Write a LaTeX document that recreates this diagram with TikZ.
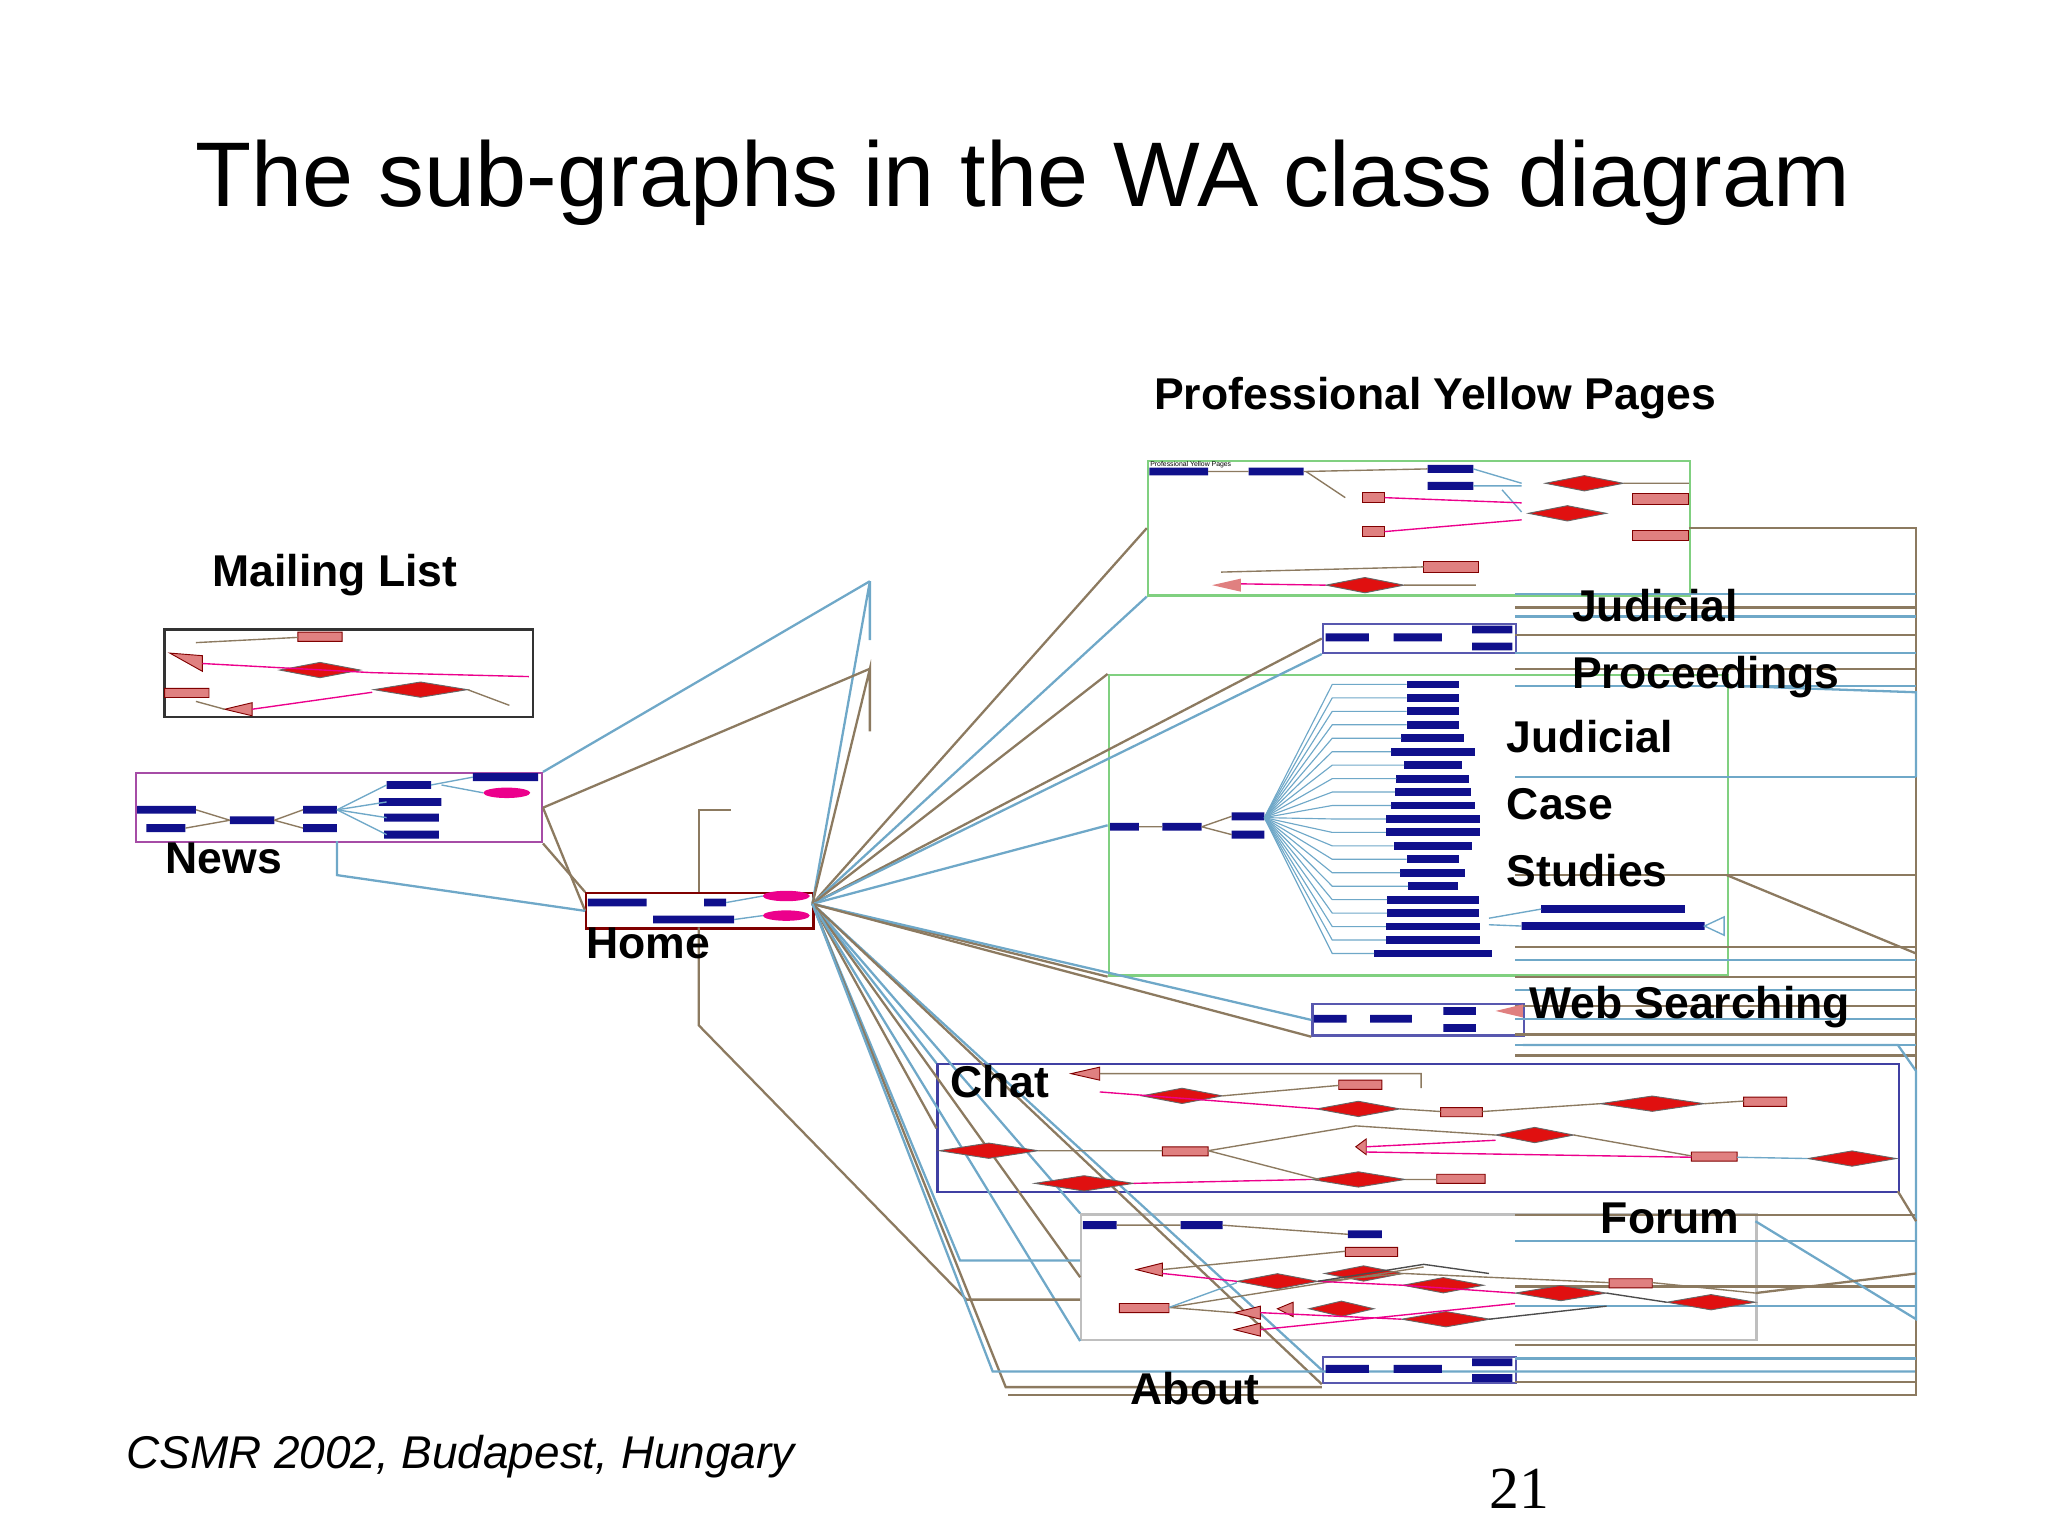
\documentclass[tikz,border=0pt]{standalone}
\usepackage{fontspec}
\setmainfont{Liberation Sans}
\usetikzlibrary{shapes.geometric}
\definecolor{bar}{HTML}{10108C}
\definecolor{dred}{HTML}{E01010}
\definecolor{pink}{HTML}{E08080}
\definecolor{ln1}{HTML}{6FA8C8}
\definecolor{ln2}{HTML}{8C7A60}
\definecolor{gbox}{HTML}{80D080}
\begin{document}
\begin{tikzpicture}[x=0.1mm,y=-0.1mm,
  lab/.style={font=\fontsize{9.7}{11.6}\selectfont\bfseries,anchor=west,align=left,inner sep=0},
  sg/.style={draw,line width=0.5pt,inner sep=0,anchor=north west,minimum width=#1*0.2845pt},
  sh/.style={minimum height=#1*0.2845pt},
  dia/.style={diamond,fill=dred,draw=black!60,line width=0.2pt,minimum width=#1*0.2845pt,minimum height=12*0.2845pt,inner sep=0,aspect=6},
  c1/.style={ln1,line width=0.5pt},
  c2/.style={ln2,line width=0.5pt}]
\useasboundingbox (0,0) rectangle (1568,1176);
\node[font=\fontsize{20}{24}\selectfont] (title) at (783,140) {The sub-graphs in the WA class diagram};

% sub-graph boxes
\node[sg=415,sh=103,draw=gbox] (pyp) at (878,352) {};
\node[sg=282,sh=67,draw=black!80] (ml) at (125,481) {};
\node[sg=311,sh=53,draw=violet!70] (news) at (103,591) {};
\node[sg=174,sh=27,draw=red!50!black] (home) at (448,683) {};
\node[sg=148,sh=22,draw=bar!70] (jp) at (1012,477) {};
\node[sg=474,sh=230,draw=gbox] (jcs) at (848,516) {};
\node[sg=162,sh=24,draw=bar!70] (ws) at (1004,768) {};
\node[sg=736,sh=98,draw=bar!80] (chat) at (717,814) {};
\node[sg=517,sh=96,draw=black!25] (forum) at (827,929) {};
\node[sg=148,sh=20,draw=bar!70] (about) at (1012,1038) {};

% connectors from Home
\coordinate (hr) at (622,692);
\foreach \t/\c in {pyp.west/c2,pyp.south west/c1,jp.west/c2,jp.south west/c1,jcs.north west/c2,jcs.west/c1,jcs.south west/c2,ws.west/c1,ws.south west/c2,chat.north west/c1,chat.west/c2,forum.north west/c1,forum.west/c2,forum.south west/c1,about.west/c1,about.south west/c2}
  \draw[\c] (hr) -- (\t);
\draw[c1] (hr) -- (666,445) -- (666,490);
\draw[c2] (hr) -- (666,512) -- (666,560);
\draw[c2] (news.east) -- (home.west);
\draw[c2] (news.south east) -- (home.north west);
\draw[c1] (258,644) -- (258,670) -- (home.west);
\draw[c1] (news.north east) -- (666,445);
\draw[c2] (news.east) -- (666,512);
\draw[c2] (535,683) -- (535,620) -- (560,620);
\draw[c2] (535,710) -- (535,785) -- (740,995) -- (827,995);
\draw[c1] (hr) -- (735,965) -- (827,965);
\draw[c2] (hr) -- (770,1062) -- (1012,1062);
\draw[c1] (hr) -- (760,1050) -- (1467,1050);

% right-side bus lines
\draw[c2] (1293,404) -- (1467,404) -- (1467,1068) -- (772,1068);
\foreach \y/\c in {455/c1,465/c2,472/c1,486/c2,500/c1,512/c2,525/c1,595/c1,670/c2,725/c2,735/c1,748/c2,758/c1,770/c2,780/c1,792/c2,800/c1,808/c2,930/c2,950/c1,985/c2,1000/c1,1030/c2,1040/c1,1058/c2}
  \draw[\c] (1160,\y) -- (1467,\y);
\draw[c1] (1322,525) -- (1467,530) -- (1467,595);
\draw[c2] (1322,670) -- (1467,730);
\draw[c1] (1166,800) -- (1453,800) -- (1467,820) -- (1467,1010) -- (1344,935);
\draw[c2] (1453,912) -- (1467,935);
\draw[c2] (1344,990) -- (1467,975);

% ---- PYP interior
\node[anchor=north west,inner sep=0,font=\fontsize{1.5}{2}\selectfont] at (880,353) {Professional Yellow Pages};
\fill[bar] (880,358) rectangle (925,364) (956,358) rectangle (998,364) (1093,356) rectangle (1128,362) (1093,369) rectangle (1128,375);
\draw[c2,line width=0.3pt] (925,361) -- (956,361) (998,361) -- (1093,359);
\draw[c1,line width=0.3pt] (1128,359) -- (1165,370) (1128,372) -- (1165,372) (1150,375) -- (1165,392);
\node[dia=60] at (1213,370) {};\node[dia=60] at (1200,393) {};\node[dia=60] at (1045,448) {};
\fill[pink,draw=red!50!black,line width=0.2pt] (1250,378) rectangle (1293,386) (1250,406) rectangle (1293,414) (1090,430) rectangle (1132,438) (1043,377) rectangle (1060,385) (1043,403) rectangle (1060,411);
\draw[magenta,line width=0.3pt] (1060,381) -- (1165,385) (1060,407) -- (1165,398) (950,447) -- (1015,448);
\draw[c2,line width=0.3pt] (1030,381) -- (1000,361) (1243,370) -- (1293,370) (935,438) -- (1090,434) (1075,448) -- (1130,448);
\fill[pink] (928,448) -- (950,443) -- (950,453) -- cycle;

% ---- Mailing list interior
\fill[pink,draw=red!50!black,line width=0.2pt] (228,484) rectangle (262,491) (126,527) rectangle (160,534) (130,500) -- (155,502) -- (155,514) -- cycle (172,543) -- (193,538) -- (193,548) -- cycle;
\node[dia=62] at (245,513) {};\node[dia=72] at (322,528) {};
\draw[c2,line width=0.3pt] (150,492) -- (228,488) (150,537) -- (172,543) (358,528) -- (390,540);
\draw[magenta,line width=0.3pt] (155,508) -- (285,515) -- (405,518) (193,543) -- (285,530);

% ---- News interior
\fill[bar] (105,617) rectangle (150,623) (112,631) rectangle (142,637) (176,625) rectangle (210,631) (232,617) rectangle (258,623) (232,631) rectangle (258,637) (296,598) rectangle (330,604) (290,611) rectangle (338,617) (294,623) rectangle (336,629) (294,636) rectangle (336,642) (362,592) rectangle (412,598);
\fill[magenta] (388,607) ellipse (18 and 4);
\draw[c2,line width=0.3pt] (150,620) -- (176,628) (142,634) -- (176,628) (210,628) -- (232,620) (210,628) -- (232,634);
\foreach \y in {601,614,626,639} \draw[c1,line width=0.3pt] (258,620) -- (296,\y);
\draw[c1,line width=0.3pt] (330,601) -- (362,595) (338,601) -- (370,607);

% ---- Home interior
\fill[bar] (450,688) rectangle (495,694) (539,688) rectangle (556,694) (500,701) rectangle (562,707);
\fill[magenta] (602,686) ellipse (18 and 4) (602,701) ellipse (18 and 4);
\draw[c1,line width=0.3pt] (556,691) -- (584,686) (562,704) -- (584,701);

% ---- Judicial proceedings / Web / About interiors
\fill[bar] (1015,485) rectangle (1048,491) (1067,485) rectangle (1104,491) (1127,479) rectangle (1158,485) (1127,492) rectangle (1158,498);
\fill[bar] (1006,777) rectangle (1031,783) (1049,777) rectangle (1081,783) (1105,771) rectangle (1130,777) (1105,784) rectangle (1130,790);
\fill[pink] (1145,774) -- (1166,769) -- (1166,779) -- cycle;
\fill[bar] (1015,1045) rectangle (1048,1051) (1067,1045) rectangle (1104,1051) (1127,1040) rectangle (1158,1046) (1127,1052) rectangle (1158,1058);

% ---- JCS interior
\fill[bar] (850,630) rectangle (872,636) (890,630) rectangle (920,636) (943,622) rectangle (968,628) (943,636) rectangle (968,642);
\draw[c2,line width=0.3pt] (872,633) -- (890,633) (920,633) -- (943,625) (920,633) -- (943,639);
\foreach \i/\w in {0/40,1/40,2/40,3/40,4/48,5/64,6/44,7/56,8/58,9/64,10/72,11/72,12/60,13/40,14/50,15/38,16/70,17/70,18/72,19/72,20/90}{
  \pgfmathsetmacro\yy{521+\i*10.3}
  \pgfmathsetmacro\xa{1097-\w/2}\pgfmathsetmacro\xb{1097+\w/2}
  \fill[bar] (\xa,\yy) rectangle (\xb,\yy+6);
  \draw[c1,line width=0.25pt] (968,626) -- (1020,\yy+3) -- (\xa,\yy+3);
}
\fill[bar] (1180,693) rectangle (1290,699) (1165,706) rectangle (1305,712);
\draw[c1,line width=0.3pt] (1140,703) -- (1180,696) (1140,708) -- (1165,709);
\fill[white,draw=ln1,line width=0.3pt] (1305,709) -- (1320,702) -- (1320,716) -- cycle;

% ---- Chat interior
\fill[pink,draw=red!50!black,line width=0.2pt] (820,822) -- (842,817) -- (842,827) -- cycle (1025,827) rectangle (1058,834) (1103,848) rectangle (1135,855) (1335,840) rectangle (1368,847) (890,878) rectangle (925,885) (1295,882) rectangle (1330,889) (1100,899) rectangle (1137,906) (1038,878) -- (1046,872) -- (1046,884) -- cycle;
\foreach \x/\y/\w in {905/839/62,1040/849/64,1265/845/80,757/881/76,1175/869/60,1418/887/68,830/906/76,1040/903/72}
  \node[dia=\w] at (\x,\y) {};
\draw[c2,line width=0.3pt] (842,822) -- (1088,822) -- (1088,833) (936,839) -- (1025,831) (1072,849) -- (1103,851) (1135,851) -- (1225,845) (1305,845) -- (1335,843) (795,881) -- (890,881) (925,881) -- (1038,862) -- (1145,869) (1205,869) -- (1295,885) (1076,903) -- (1100,903) (925,881) -- (1010,903);
\draw[magenta,line width=0.3pt] (842,836) -- (1010,849) (868,906) -- (1004,903) (1046,878) -- (1145,873) (1046,882) -- (1295,886);
\draw[c1,line width=0.3pt] (1330,886) -- (1384,887);

% ---- Forum interior
\fill[bar] (829,935) rectangle (855,941) (904,935) rectangle (936,941) (1032,942) rectangle (1058,948);
\fill[pink,draw=red!50!black,line width=0.2pt] (1030,955) rectangle (1070,962) (1232,979) rectangle (1265,986) (857,998) rectangle (895,1005) (870,972) -- (890,967) -- (890,977) -- cycle (945,1005) -- (965,1000) -- (965,1010) -- cycle (945,1018) -- (965,1013) -- (965,1023) -- cycle (978,1002) -- (990,997) -- (990,1008) -- cycle;
\foreach \x/\y/\w in {978/981/62,1044/975/60,1105/984/62,1195/990/70,1310/997/68,1107/1010/68,1027/1002/50}
  \node[dia=\w] at (\x,\y) {};
\draw[c2,line width=0.3pt] (855,938) -- (904,938) (936,938) -- (1032,945) (890,972) -- (1030,958) (895,1001) -- (945,1005) (1009,981) -- (1075,975) -- (1232,982) (1265,982) -- (1344,990) (895,1001) -- (1090,970);
\draw[magenta,line width=0.3pt] (890,975) -- (947,981) (1009,981) -- (1074,984) -- (1160,990) (965,1005) -- (1073,1010) (965,1018) -- (1160,998);
\draw[black!70,line width=0.3pt] (1009,981) -- (1090,968) -- (1140,975) (1140,1010) -- (1230,1000) (1230,990) -- (1276,997);
\draw[c1,line width=0.3pt] (895,1001) -- (947,982);

% labels
\node[lab] (l1) at (883,305) {Professional Yellow Pages};
\node[lab] (l2) at (162,440) {Mailing List};
\node[lab] (l3) at (1203,493) {Judicial\\[3pt]Proceedings};
\node[lab] (l4) at (1153,615) {Judicial\\[3pt]Case\\[3pt]Studies};
\node[lab] (l5) at (126,657) {News};
\node[lab] (l6) at (448,722) {Home};
\node[lab] (l7) at (1170,771) {Web Searching};
\node[lab] (l8) at (727,828) {Chat};
\node[lab] (l9) at (1225,933) {Forum};
\node[lab] (l10) at (865,1063) {About};
\node[anchor=west,inner sep=0,font=\fontsize{10}{12}\selectfont\itshape] (foot) at (96,1115) {CSMR 2002, Budapest, Hungary};
\node[font=\fontsize{13}{15}\selectfont,anchor=center] (pg) at (1163,1140) {\fontspec{Liberation Serif}21};
\end{tikzpicture}
\end{document}
